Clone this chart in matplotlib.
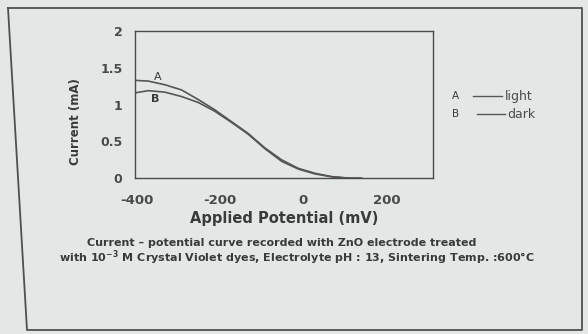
import matplotlib
matplotlib.use("Agg")
import matplotlib.pyplot as plt
from matplotlib.lines import Line2D

plt.rcParams["axes.unicode_minus"] = False

# Data
potential_mv = [-405, -373, -333, -293, -253, -213, -173, -133, -92, -52, -12, 28, 68, 108, 140]
current_light = [1.33, 1.32, 1.27, 1.20, 1.07, 0.93, 0.77, 0.61, 0.41, 0.25, 0.135, 0.068, 0.023, 0.003, 0.0]
current_dark = [1.16, 1.19, 1.17, 1.11, 1.03, 0.91, 0.76, 0.60, 0.40, 0.23, 0.125, 0.06, 0.02, 0.002, 0.0]
x_ticks = [-400, -200, 0, 200]
y_ticks = [0, 0.5, 1, 1.5, 2]
y_tick_labels = ["0", "0.5", "1", "1.5", "2"]

BG = "#e3e8e6"
INK = "#3a3a3a"
LINE = "#555555"
FONT = "DejaVu Sans"

W, H = 588, 334
fig = plt.figure(figsize=(W / 100, H / 100), dpi=100)
fig.patch.set_facecolor(BG)

def fx(px):
    return px / W

def fy(py):
    return 1 - py / H

ax = fig.add_axes([fx(135), fy(178.3), fx(433) - fx(135), fy(31) - fy(178.3)])
ax.set_facecolor(BG)
ax.plot(potential_mv, current_light, color=LINE, lw=1.2)
ax.plot(potential_mv, current_dark, color=LINE, lw=1.2)
ax.set_xlim(-405, 312)
ax.set_ylim(0, 2)
ax.set_xticks(x_ticks)
ax.set_yticks(y_ticks)
ax.set_yticklabels(y_tick_labels)
ax.tick_params(axis="y", length=0, pad=9, labelsize=9, colors="#4a4a4a")
ax.tick_params(axis="x", length=0, pad=11, labelsize=9.5, colors="#4a4a4a")
for lab in ax.get_xticklabels() + ax.get_yticklabels():
    lab.set_fontfamily(FONT)
    lab.set_fontweight("bold")
for s in ax.spines.values():
    s.set_color("#4a4a4a")
    s.set_linewidth(1.0)

ax.text(-350, 1.37, "A", fontsize=8, color=INK, family=FONT, ha="center", va="center")
ax.text(-357, 1.07, "B", fontsize=8, fontweight="bold", color=INK, family=FONT, ha="center", va="center")

ax.set_xlabel("Applied Potential (mV)", fontsize=10.5, fontweight="bold", color=INK, family=FONT, labelpad=3)
fig.text(fx(75), fy(122), "Current (mA)", fontsize=8.5, fontweight="bold", color=INK, family=FONT,
         rotation=90, ha="center", va="center")

# legend text
fig.text(fx(452), fy(96), "A", fontsize=7.5, color=INK, family=FONT, ha="left", va="center")
fig.add_artist(Line2D([fx(473), fx(502)], [fy(96), fy(96)], color=LINE, lw=1))
fig.text(fx(505), fy(96), "light", fontsize=9, color="#4a4a4a", family=FONT, ha="left", va="center")
fig.text(fx(452), fy(114), "B", fontsize=7.5, color=INK, family=FONT, ha="left", va="center")
fig.add_artist(Line2D([fx(477), fx(505)], [fy(114), fy(114)], color=LINE, lw=1))
fig.text(fx(507), fy(114), "dark", fontsize=9, color="#4a4a4a", family=FONT, ha="left", va="center")

# caption
fig.text(fx(282), fy(243.5), "Current \u2013 potential curve recorded with ZnO electrode treated",
         fontsize=8, fontweight="bold", color=INK, family=FONT, ha="center", va="center")
fig.text(fx(297), fy(257.5), "with 10$^{\\mathbf{-3}}$ M Crystal Violet dyes, Electrolyte pH : 13, Sintering Temp. :600\u00b0C",
         fontsize=8, fontweight="bold", color=INK, family=FONT, ha="center", va="center")

# outer frame (photographed page border)
fig.add_artist(Line2D([fx(8), fx(582), fx(582), fx(27), fx(8)],
                      [fy(8), fy(8), fy(330), fy(330), fy(8)], color="#505050", lw=1.3))

fig.savefig("out.png", dpi=100, facecolor=BG)
